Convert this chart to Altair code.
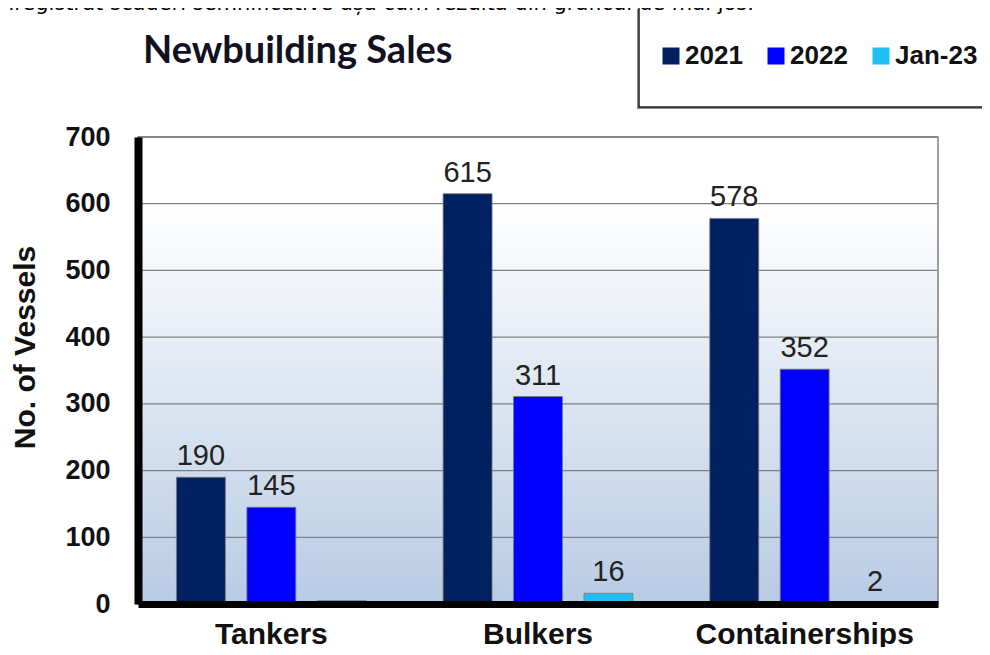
import altair as alt
import pandas as pd

# ---- data ----
categories = ["Tankers", "Bulkers", "Containerships"]
series = ["2021", "2022", "Jan-23"]
values_2021 = [190, 615, 578]
values_2022 = [145, 311, 352]
values_jan23 = [5, 16, 2]
labelled_jan23 = [False, True, True]
series_colors = ["#002060", "#0000FF", "#1FBEF3"]
y_ticks = [0, 100, 200, 300, 400, 500, 600, 700]

chart_title = "Newbuilding Sales"
y_title = "No. of Vessels"
page_text = "înregistrat scăderi semnificative așa cum rezultă din graficul de mai jos."

rows = []
for i, cat in enumerate(categories):
    rows.append({"category": cat, "series": "2021", "value": values_2021[i], "label": str(values_2021[i])})
    rows.append({"category": cat, "series": "2022", "value": values_2022[i], "label": str(values_2022[i])})
    rows.append({"category": cat, "series": "Jan-23", "value": values_jan23[i],
                 "label": str(values_jan23[i]) if labelled_jan23[i] else ""})
df = pd.DataFrame(rows)
grid_df = pd.DataFrame({"value": y_ticks[1:]})

W, H = 800, 467
y_scale = alt.Scale(domain=[0, 700], nice=False, zero=True)

y_axis = alt.Axis(values=y_ticks, title=y_title, ticks=False, grid=False,
                  domainColor="#000000", domainWidth=8, zindex=1,
                  labelFont="Liberation Sans", labelFontWeight="bold",
                  labelFontSize=27, labelColor="#111111", labelPadding=28,
                  titleFont="Liberation Sans", titleFontWeight="bold",
                  titleFontSize=30, titleColor="#111111",
                  titleAngle=270, titleX=-113, titleY=210,
                  titleAlign="center", titleBaseline="middle")

x_enc = alt.X("category:N", sort=categories,
              scale=alt.Scale(paddingInner=0, paddingOuter=0),
              axis=alt.Axis(title=None, labelAngle=0, ticks=False, grid=False,
                            domainColor="#000000", domainWidth=7, zindex=1,
                            labelFont="Liberation Sans", labelFontWeight="bold",
                            labelFontSize=30, labelColor="#111111", labelLimit=400,
                            labelPadding=15, labelBaseline="top"))
y_enc = alt.Y("value:Q", scale=y_scale, axis=y_axis)

base = alt.Chart(df).encode(
    x=x_enc,
    xOffset=alt.XOffset("series:N", sort=series,
                        scale=alt.Scale(paddingInner=0.305, paddingOuter=0.546)),
    y=y_enc,
)

gradient = alt.Gradient(
    gradient="linear", x1=0, y1=0, x2=0, y2=1,
    stops=[
        alt.GradientStop(offset=0, color="#ffffff"),
        alt.GradientStop(offset=0.14, color="#ffffff"),
        alt.GradientStop(offset=1, color="#B8CBE4"),
    ],
)

one = pd.DataFrame({"k": ["one"]})
background = alt.Chart(one).mark_rect(fill=gradient, stroke="#808080", strokeWidth=1.5).encode(
    x=alt.value(0), x2=alt.value(W), y=alt.value(0), y2=alt.value(H))

grid = alt.Chart(grid_df).mark_rule(color="#808080", strokeWidth=1.3).encode(
    y=alt.Y("value:Q", scale=y_scale, axis=y_axis))

bars = base.mark_bar(stroke="#7a7a7a", strokeWidth=0.8).encode(
    color=alt.Color("series:N", sort=series,
                    scale=alt.Scale(domain=series, range=series_colors),
                    legend=alt.Legend(title=None, orient="none", direction="horizontal",
                                      legendX=520, legendY=-94,
                                      symbolType="square", symbolSize=289,
                                      symbolStrokeWidth=0,
                                      labelFont="Liberation Sans", labelFontWeight="bold",
                                      labelFontSize=26, labelColor="#111111",
                                      labelOffset=1, columnPadding=20, padding=0))
)

labels = base.mark_text(font="Liberation Sans", fontSize=29, color="#222222",
                        baseline="alphabetic", dy=-12).encode(text="label:N")

title_layer = alt.Chart(pd.DataFrame({"t": [chart_title]})).mark_text(
    font="Lato", fontWeight="bold", fontSize=38, color="#111122",
    align="left", baseline="alphabetic"
).encode(text="t:N", x=alt.value(5), y=alt.value(-74))

page_layer = alt.Chart(pd.DataFrame({"t": [page_text]})).mark_text(
    font="DejaVu Sans", fontSize=21, color="#000000",
    align="left", baseline="alphabetic"
).encode(text="t:N", x=alt.value(-143), y=alt.value(-127))

legend_shadow = alt.Chart(one).mark_rect(fill="#8a8a8a").encode(
    x=alt.value(499), x2=alt.value(860), y=alt.value(-128), y2=alt.value(-28))
legend_box = alt.Chart(one).mark_rect(fill="#ffffff", stroke="#222222", strokeWidth=1.5).encode(
    x=alt.value(501), x2=alt.value(860), y=alt.value(-130), y2=alt.value(-30))

chart = alt.layer(
    background, grid, bars, labels, legend_shadow, legend_box, title_layer, page_layer
).properties(
    width=W, height=H,
    autosize=alt.AutoSizeParams(type="none"),
    padding={"left": 130, "top": 129, "right": 44, "bottom": 43},
    background="#ffffff",
).configure_view(
    stroke=None
)

chart.save("out.html", embed_options={"renderer": "svg", "actions": False})
